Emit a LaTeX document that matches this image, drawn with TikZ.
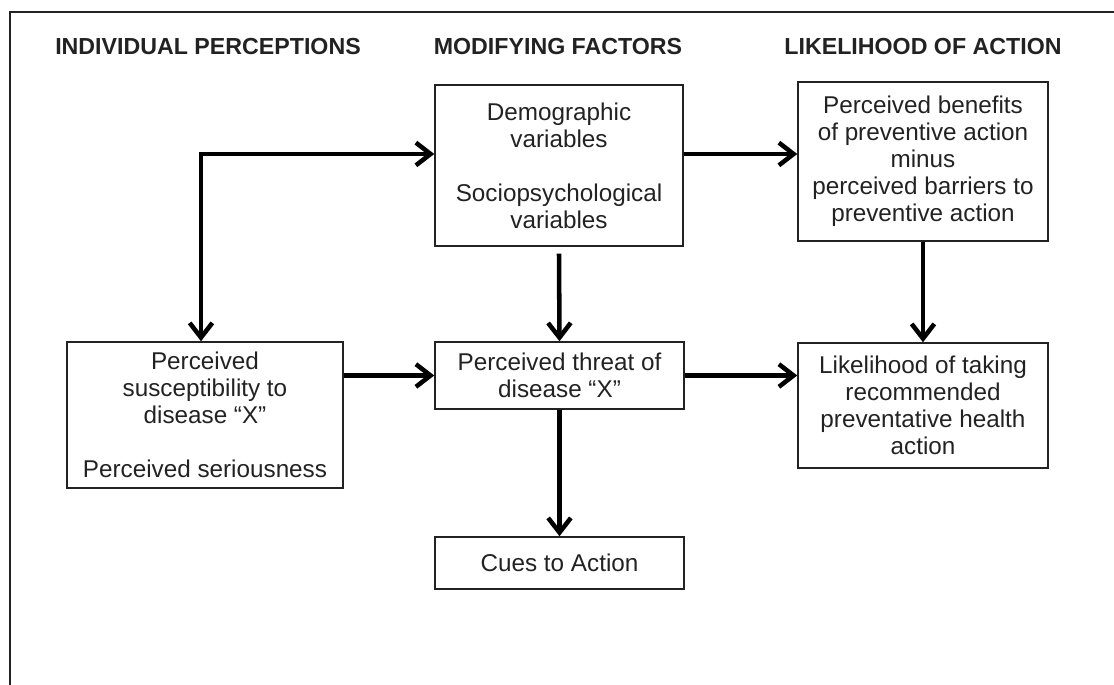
\documentclass[tikz,border=0pt]{standalone}
\usepackage{fontspec}
\setmainfont{Liberation Sans}
\usetikzlibrary{arrows.meta,calc}
\definecolor{ink}{HTML}{222222}
\begin{document}
\begin{tikzpicture}[x=0.75pt,y=-0.75pt,
  box/.style={draw=ink, line width=1.1pt, inner sep=0pt, align=center, text=ink,
    font=\fontsize{18.2pt}{20.25pt}\selectfont},
  head/.style={anchor=base, font=\fontsize{17.4pt}{20pt}\selectfont\bfseries, text=ink, inner sep=0pt},
  arr/.style={line width=3.4pt, draw=black, line join=miter, -{Straight Barb[length=11pt,width=17pt]}},
  frame/.style={line width=1.5pt, draw=ink}]
\useasboundingbox (0,0) rectangle (1114,685);
\draw[frame] (1114,12) -- (10,12) -- (10,685);

\node[head] (h1) at (208,55) {INDIVIDUAL PERCEPTIONS};
\node[head] (h2) at (558,55) {MODIFYING FACTORS};
\node[head] (h3) at (923,55) {LIKELIHOOD OF ACTION};

\node[box, minimum width=186pt, minimum height=120.75pt] (demo) at (559,165.5)
  {Demographic\\variables\\[20.25pt]Sociopsychological\\variables};
\node[box, minimum width=187.5pt, minimum height=119.25pt] (benef) at (923,161.5)
  {Perceived benefits\\of preventive action\\minus\\perceived barriers to\\preventive action};
\node[box, minimum width=207pt, minimum height=109.5pt] (susc) at (205,415)
  {Perceived\\susceptibility to\\disease “X”\\[20.25pt]Perceived seriousness};
\node[box, minimum width=186.75pt, minimum height=50.25pt] (threat) at (559.5,375.5)
  {Perceived threat of\\disease “X”};
\node[box, minimum width=186.75pt, minimum height=39pt] (cues) at (559.5,563)
  {Cues to Action};
\node[box, minimum width=187.5pt, minimum height=93.75pt] (likely) at (923,405.5)
  {Likelihood of taking\\recommended\\preventative health\\action};

\coordinate (c) at (201,154);
\draw[arr, {Straight Barb[length=11pt,width=17pt]}-{Straight Barb[length=11pt,width=17pt]}]
  (c -| demo.west) -- (c) -- (c |- susc.north);
\draw[arr] (demo.east |- c) -- (benef.west |- c);
\draw[arr] ($(demo.south)+(0,7)$) -- (threat.north);
\draw[arr] (benef.south) -- (likely.north);
\draw[arr] (susc.east |- threat.west) -- (threat.west);
\draw[arr] (threat.east) -- (threat.east -| likely.west);
\draw[arr] (threat.south) -- (cues.north);
\end{tikzpicture}
\end{document}
